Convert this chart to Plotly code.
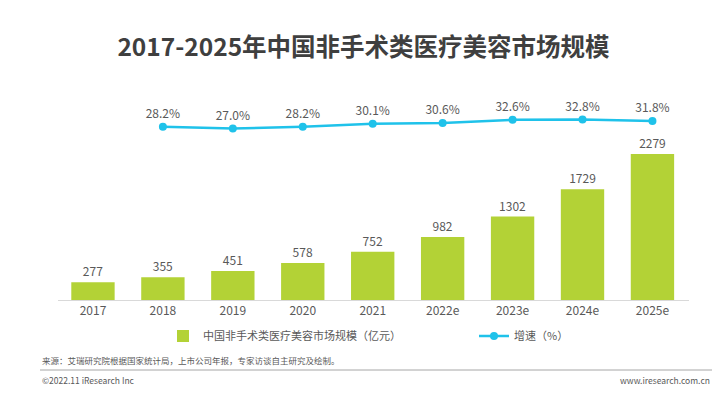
import plotly.graph_objects as go

years = ["2017", "2018", "2019", "2020", "2021", "2022e", "2023e", "2024e", "2025e"]
market = [277, 355, 451, 578, 752, 982, 1302, 1729, 2279]
growth_years = ["2018", "2019", "2020", "2021", "2022e", "2023e", "2024e", "2025e"]
growth = [28.2, 27.0, 28.2, 30.1, 30.6, 32.6, 32.8, 31.8]

FONT = "Noto Sans CJK SC"
GRAY = "#595959"
BAR = "#b3d236"
LINE = "#1fc2ea"

W, H = 710, 380          # page body has an 8px margin
L, R, T, B = 50, 29, 92, 88
PW, PH = W - L - R, H - T - B


def px(x):
    return (x - L) / PW


def py(y):
    return (H - B - y) / PH


fig = go.Figure()
fig.add_trace(go.Bar(
    x=years, y=market, name="中国非手术类医疗美容市场规模（亿元）",
    marker=dict(color=BAR, line=dict(width=0)),
    text=[str(v) for v in market], textposition="outside",
    textfont=dict(family=FONT, size=12, color=GRAY),
    width=0.62, cliponaxis=False,
))
fig.add_trace(go.Scatter(
    x=growth_years, y=growth, name="增速（%）", yaxis="y2",
    mode="lines+markers+text",
    line=dict(color=LINE, width=2.5),
    marker=dict(color=LINE, size=8),
    text=[f"{v:.1f}%" for v in growth], textposition="top center",
    textfont=dict(family=FONT, size=12, color=GRAY),
    cliponaxis=False,
))

fig.update_layout(
    width=W, height=H,
    margin=dict(l=L, r=R, t=T, b=B, autoexpand=False),
    paper_bgcolor="white", plot_bgcolor="white",
    font=dict(family=FONT, color=GRAY),
    title=dict(text="<b>2017-2025年中国非手术类医疗美容市场规模</b>",
               xref="container", x=355.5 / W, xanchor="center",
               yref="container", y=1 - 39 / H, yanchor="middle",
               font=dict(family=FONT, size=24.5, color="#3f3f3f")),
    xaxis=dict(type="category", showgrid=False, showline=True, linecolor="#d9d9d9",
               linewidth=1, ticks="", tickfont=dict(family=FONT, size=12, color=GRAY)),
    yaxis=dict(range=[0, 3122], visible=False, showgrid=False),
    yaxis2=dict(range=[-83.6, 45.4], overlaying="y", side="right", visible=False,
                showgrid=False),
    showlegend=True,
    legend=dict(orientation="h", xref="container", yref="container",
                x=155 / W, xanchor="left", y=1 - 328 / H, yanchor="middle",
                entrywidth=266, entrywidthmode="pixels",
                font=dict(family=FONT, size=11, color=GRAY), itemwidth=30),
)

fig.add_annotation(text="来源：艾瑞研究院根据国家统计局，上市公司年报，专家访谈自主研究及绘制。",
                   xref="paper", yref="paper", x=px(32), y=py(352),
                   xanchor="left", yanchor="middle", showarrow=False,
                   font=dict(family=FONT, size=8.5, color=GRAY))
fig.add_shape(type="line", xref="paper", yref="paper",
              x0=px(32), x1=px(704), y0=py(362), y1=py(362),
              line=dict(color="#a6a6a6", width=1))
fig.add_annotation(text="©2022.11 iResearch Inc",
                   xref="paper", yref="paper", x=px(32), y=py(372),
                   xanchor="left", yanchor="middle", showarrow=False,
                   font=dict(family=FONT, size=8.5, color=GRAY))
fig.add_annotation(text="www.iresearch.com.cn",
                   xref="paper", yref="paper", x=px(704), y=py(372),
                   xanchor="right", yanchor="middle", showarrow=False,
                   font=dict(family=FONT, size=8.5, color=GRAY))

fig.write_html("out.html")
